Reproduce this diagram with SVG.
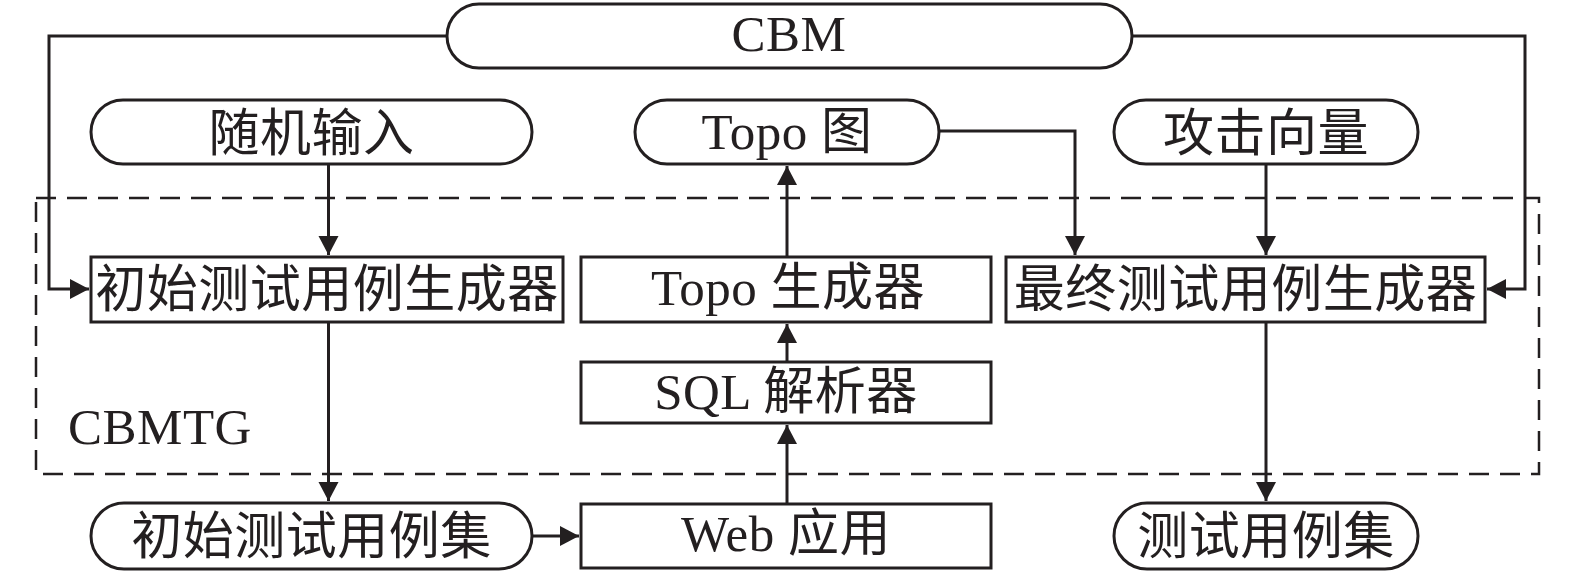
<svg xmlns="http://www.w3.org/2000/svg" width="1575" height="573" viewBox="0 0 1575 573">
<style>
.n{fill:#fff;stroke:#231f20;stroke-width:3}
.t{font-family:"Liberation Serif","Noto Sans CJK SC",serif;font-size:51px;fill:#231f20;text-anchor:middle;letter-spacing:0.5px}
.c{fill:none;stroke:#231f20;stroke-width:3}
.d{fill:none;stroke:#231f20;stroke-width:2.5;stroke-dasharray:20 11}
</style>
<defs>
<marker id="a" markerUnits="userSpaceOnUse" markerWidth="21" markerHeight="21" refX="19" refY="10" orient="auto">
<path d="M0,0 L19,10 L0,20 z" fill="#231f20"/>
</marker>
</defs>
<rect class="d" x="36" y="198" width="1503" height="276"/>
<text class="t" x="68" y="444" style="text-anchor:start">CBMTG</text>
<g id="connectors">
<path class="c" d="M447,36 H49 V289 H89" marker-end="url(#a)"/>
<path class="c" d="M1132,36 H1525 V289 H1487" marker-end="url(#a)"/>
<path class="c" d="M328.5,164 V255" marker-end="url(#a)"/>
<path class="c" d="M787,257 V166" marker-end="url(#a)"/>
<path class="c" d="M939,131 H1075 V255" marker-end="url(#a)"/>
<path class="c" d="M1266,164 V255" marker-end="url(#a)"/>
<path class="c" d="M787,362 V324" marker-end="url(#a)"/>
<path class="c" d="M787,504 V425" marker-end="url(#a)"/>
<path class="c" d="M328.5,322 V501" marker-end="url(#a)"/>
<path class="c" d="M532,536 H579" marker-end="url(#a)"/>
<path class="c" d="M1266,322 V501" marker-end="url(#a)"/>
</g>
<g id="cbm"><rect class="n" x="447" y="4" width="685" height="64" rx="32"/><text class="t" x="789" y="51">CBM</text></g>
<g id="random"><rect class="n" x="91" y="100" width="441" height="64" rx="32"/><text class="t" x="311.5" y="151">随机输入</text></g>
<g id="topo"><rect class="n" x="635" y="100" width="304" height="64" rx="32"/><text class="t" x="787" y="149">Topo 图</text></g>
<g id="attack"><rect class="n" x="1114" y="100" width="304" height="64" rx="32"/><text class="t" x="1266" y="151">攻击向量</text></g>
<g id="initgen"><rect class="n" x="91" y="257" width="472" height="65"/><text class="t" x="327" y="307">初始测试用例生成器</text></g>
<g id="topogen"><rect class="n" x="581" y="257" width="410" height="65"/><text class="t" x="788" y="305">Topo 生成器</text></g>
<g id="finalgen"><rect class="n" x="1006" y="257" width="479" height="65"/><text class="t" x="1245.5" y="307">最终测试用例生成器</text></g>
<g id="sql"><rect class="n" x="581" y="362" width="410" height="61"/><text class="t" x="786" y="409">SQL 解析器</text></g>
<g id="initset"><rect class="n" x="91" y="503" width="441" height="66" rx="33"/><text class="t" x="311.5" y="554">初始测试用例集</text></g>
<g id="web"><rect class="n" x="581" y="504" width="410" height="64"/><text class="t" x="786" y="551">Web 应用</text></g>
<g id="testset"><rect class="n" x="1114" y="503" width="304" height="66" rx="33"/><text class="t" x="1266" y="554">测试用例集</text></g>
</svg>
